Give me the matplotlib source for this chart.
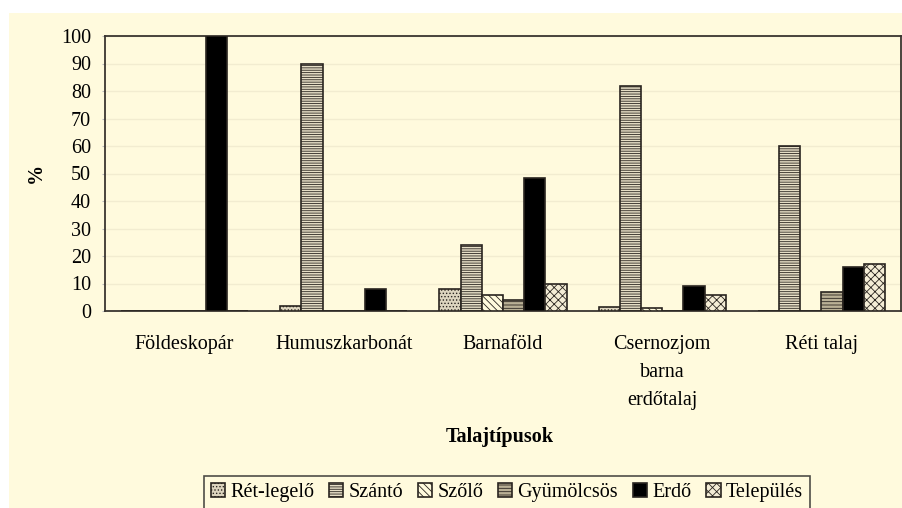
import numpy as np
import matplotlib.pyplot as plt
from matplotlib.patches import Rectangle

plt.rcParams['font.family'] = ['Liberation Serif', 'DejaVu Serif']
plt.rcParams['hatch.linewidth'] = 0.6

# talajtípusok (x kategóriák)
categories = ['Földeskopár', 'Humuszkarbonát', 'Barnaföld', 'Csernozjom\nbarna\nerdőtalaj', 'Réti talaj']

# földhasználat szerinti megoszlás, %
ret_legelo = [0, 2, 8, 1.6, 0]
szanto = [0, 90, 24, 82, 60]
szolo = [0, 0, 6, 1, 0]
gyumolcsos = [0, 0, 4, 0, 7]
erdo = [100, 8, 48.5, 9, 16]
telepules = [0, 0, 10, 6, 17]

series = [ret_legelo, szanto, szolo, gyumolcsos, erdo, telepules]
names = ['Rét-legelő', 'Szántó', 'Szőlő', 'Gyümölcsös', 'Erdő', 'Település']
y_ticks = [0, 10, 20, 30, 40, 50, 60, 70, 80, 90, 100]

# fill / hatch per series
styles = [
    ('#ddd5bf', '.....'),
    ('#e6dec6', '-------'),
    ('#fffadd', '\\\\\\\\\\'),
    ('#b9b095', '-----'),
    ('#000000', None),
    ('#f4edd6', 'xxxx'),
]

cream = '#fffadd'

fig = plt.figure(figsize=(9.03, 5.08), dpi=100)
fig.patch.set_facecolor('white')
# cream chart area background
fig.patches.append(Rectangle((9 / 903, 0), 1, (508 - 13) / 508, transform=fig.transFigure,
                             facecolor=cream, edgecolor='none', zorder=-10))

ax = fig.add_axes([105 / 903, 1 - 311 / 508, 796 / 903, 275 / 508])
ax.set_facecolor(cream)

n = len(series)
w = 1 / (n + 1.5)
x = np.arange(len(categories))
for i, (vals, name, (fc, hatch)) in enumerate(zip(series, names, styles)):
    pos = x - 0.5 + 0.75 * w + i * w + w / 2
    ax.bar(pos, vals, width=w, facecolor=fc, edgecolor='#2a2520', linewidth=1.2,
           hatch=hatch, label=name, zorder=3)

ax.set_xlim(-0.5, len(categories) - 0.5)
ax.set_ylim(0, 100)
ax.set_yticks(y_ticks)
ax.tick_params(axis='y', labelsize=14.5, length=2, color='#bbbbbb', pad=8)
ax.set_xticks(x)
ax.set_xticklabels(categories, fontsize=14.5, linespacing=1.65, va='top')
ax.tick_params(axis='x', length=0, pad=17)
ax.grid(axis='y', color='#f2ecd0', linewidth=1, zorder=0)
for s in ax.spines.values():
    s.set_color('#3a3530')
    s.set_linewidth(1.3)

fig.text(36 / 903, 1 - 173 / 508, '%', fontsize=14.5, fontweight='bold', rotation=90,
         ha='center', va='center')
fig.text(500 / 903, 1 - 437 / 508, 'Talajtípusok', fontsize=14.5, fontweight='bold',
         ha='center', va='center')

leg = fig.legend(loc='upper left', bbox_to_anchor=(204 / 903, 1 - 476 / 508), ncol=6,
                 fontsize=14.5, frameon=True, fancybox=False, handlelength=0.7,
                 handleheight=0.7, handletextpad=0.25, columnspacing=0.75,
                 borderpad=0.35, borderaxespad=0)
leg.get_frame().set_edgecolor('#222222')
leg.get_frame().set_linewidth(1.2)
leg.get_frame().set_facecolor(cream)

fig.savefig('out.png', dpi=100, facecolor=fig.get_facecolor())
